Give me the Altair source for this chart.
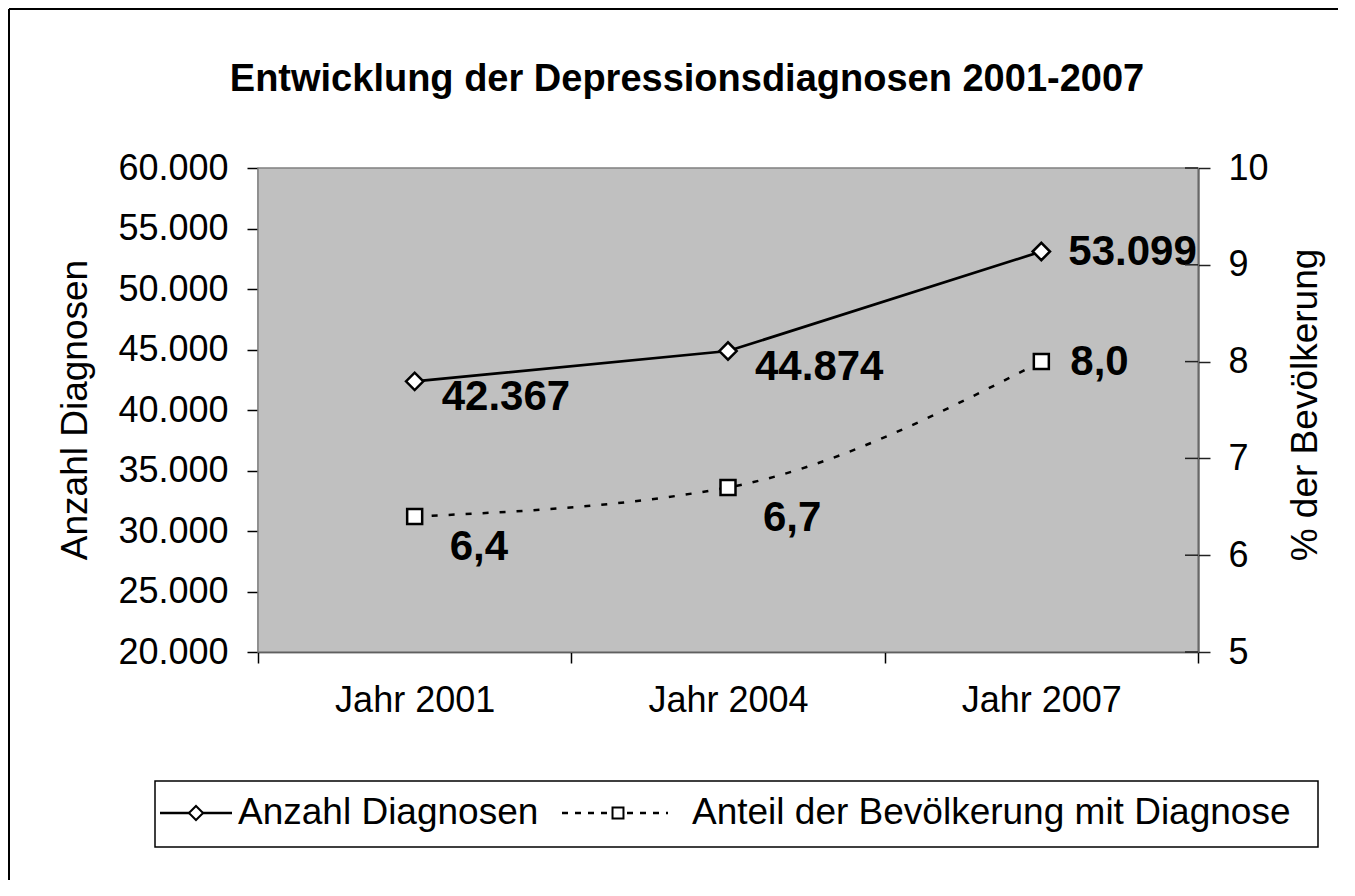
import altair as alt
import pandas as pd

# ---- data ----
categories = ["Jahr 2001", "Jahr 2004", "Jahr 2007"]
anzahl = [42367, 44874, 53099]
anteil = [6.4, 6.7, 8.0]
left_ticks = [20000, 25000, 30000, 35000, 40000, 45000, 50000, 55000, 60000]
right_ticks = [5, 6, 7, 8, 9, 10]
title_text = "Entwicklung der Depressionsdiagnosen 2001-2007"
left_title = "Anzahl Diagnosen"
right_title = "% der Bevölkerung"
legend_labels = ["Anzahl Diagnosen", "Anteil der Bevölkerung mit Diagnose"]

FONT = "Liberation Sans"
W, H = 940, 484

df = pd.DataFrame({"Jahr": categories, "Anzahl": anzahl, "Anteil": anteil})
df["idx"] = list(range(len(df)))
df["lab1"] = [f"{v:,}".replace(",", ".") for v in anzahl]
df["lab2"] = [f"{v:.1f}".replace(".", ",") for v in anteil]
ticks_df = pd.DataFrame({"t": right_ticks})
one = pd.DataFrame({"k": [0]})

x_enc = alt.X(
    "Jahr:N", sort=categories,
    scale=alt.Scale(paddingInner=0, paddingOuter=0),
    axis=alt.Axis(title=None, tickBand="extent", labelAngle=0, labelFontSize=36,
                  labelPadding=20, tickSize=11, domainColor="black", tickColor="black",
                  labelColor="black", domainWidth=1.5, tickWidth=1.5, labelFont=FONT),
)

left_scale = alt.Scale(domain=[20000, 60000], zero=False, nice=False)
left_axis = alt.Axis(orient="left", title=None, values=left_ticks,
                     labelExpr="replace(format(datum.value, ',.0f'), ',', '.')",
                     labelFontSize=36, labelPadding=19, tickSize=11, grid=False,
                     domainColor="black", tickColor="black", labelColor="black",
                     domainWidth=1.5, tickWidth=1.5, labelFont=FONT)
right_scale = alt.Scale(domain=[5, 10], zero=False, nice=False)
right_axis = alt.Axis(orient="right", title=None, values=right_ticks, format="d",
                      labelFontSize=36, labelPadding=18, tickSize=12, grid=False,
                      domainColor="#222222", tickColor="#222222", labelColor="black",
                      domainWidth=2, tickWidth=1.5, labelFont=FONT)

# plot-area background
plot_bg = alt.Chart(one).mark_rect(fill="#C0C0C0", stroke="#808080", strokeWidth=1.5).encode(
    x=alt.value(0), x2=alt.value(W), y=alt.value(0), y2=alt.value(H))

left_base = alt.Chart(df).encode(x=x_enc, y=alt.Y("Anzahl:Q", scale=left_scale, axis=left_axis))
line1 = left_base.mark_line(color="black", strokeWidth=2.7)
pts1 = left_base.mark_point(shape="diamond", size=300, filled=True, fill="white",
                            stroke="black", strokeWidth=2.5, opacity=1)
lab_style = dict(font=FONT, fontSize=42, fontWeight="bold", color="black",
                 align="left", baseline="middle")
t1a = left_base.mark_text(dx=27, dy=16, **lab_style).encode(text="lab1:N").transform_filter("datum.idx < 2")
t1b = left_base.mark_text(dx=27, dy=0, **lab_style).encode(text="lab1:N").transform_filter("datum.idx == 2")
left_layer = alt.layer(line1, pts1, t1a, t1b)

right_base = alt.Chart(df).encode(x=x_enc, y=alt.Y("Anteil:Q", scale=right_scale, axis=right_axis))
line2 = right_base.mark_line(color="black", strokeWidth=2.5, strokeDash=[6, 11], interpolate="monotone")
pts2 = right_base.mark_point(shape="square", size=225, filled=True, fill="white",
                             stroke="black", strokeWidth=2.5, opacity=1)
t2a = right_base.mark_text(dx=35, dy=31, **lab_style).encode(text="lab2:N").transform_filter("datum.idx < 2")
t2b = right_base.mark_text(dx=29, dy=0, **lab_style).encode(text="lab2:N").transform_filter("datum.idx == 2")
inner_ticks = alt.Chart(ticks_df).mark_rule(color="#222222", strokeWidth=1.5).encode(
    y=alt.Y("t:Q", scale=right_scale, axis=right_axis),
    x=alt.value(W - 13), x2=alt.value(W))
right_layer = alt.layer(line2, inner_ticks, pts2, t2a, t2b)

# ---- decorations ----
frame_left = alt.Chart(one).mark_rule(color="black", strokeWidth=2).encode(
    x=alt.value(-249), y=alt.value(-159), y2=alt.value(712))
frame_top = alt.Chart(one).mark_rule(color="black", strokeWidth=2).encode(
    x=alt.value(-249), x2=alt.value(1080), y=alt.value(-159))
title = alt.Chart(one).mark_text(font=FONT, fontSize=38, fontWeight="bold", color="black",
                                 align="center", baseline="middle").encode(
    x=alt.value(429), y=alt.value(-88), text=alt.value(title_text))
ltitle = alt.Chart(one).mark_text(font=FONT, fontSize=37, color="black", angle=270,
                                  align="center", baseline="middle").encode(
    x=alt.value(-182), y=alt.value(242), text=alt.value(left_title))
rtitle = alt.Chart(one).mark_text(font=FONT, fontSize=37, color="black", angle=270,
                                  align="center", baseline="middle").encode(
    x=alt.value(1048), y=alt.value(237), text=alt.value(right_title))

LY = 645
leg_box = alt.Chart(one).mark_rect(fill="white", stroke="black", strokeWidth=1.5).encode(
    x=alt.value(-103), x2=alt.value(1060), y=alt.value(613), y2=alt.value(679))
leg_l1 = alt.Chart(one).mark_rule(color="black", strokeWidth=2.5).encode(
    x=alt.value(-98), x2=alt.value(-26), y=alt.value(LY))
leg_p1 = alt.Chart(one).mark_point(shape="diamond", size=200, filled=True, fill="white",
                                   stroke="black", strokeWidth=2, opacity=1).encode(
    x=alt.value(-62), y=alt.value(LY))
leg_t1 = alt.Chart(one).mark_text(font=FONT, fontSize=37, color="black", align="left",
                                  baseline="middle").encode(
    x=alt.value(-20), y=alt.value(LY), text=alt.value(legend_labels[0]))
leg_l2 = alt.Chart(one).mark_rule(color="black", strokeWidth=2.3, strokeDash=[6, 7]).encode(
    x=alt.value(304), x2=alt.value(410), y=alt.value(LY))
leg_p2 = alt.Chart(one).mark_point(shape="square", size=120, filled=True, fill="white",
                                   stroke="black", strokeWidth=2, opacity=1).encode(
    x=alt.value(360), y=alt.value(LY))
leg_t2 = alt.Chart(one).mark_text(font=FONT, fontSize=37, color="black", align="left",
                                  baseline="middle").encode(
    x=alt.value(434), y=alt.value(LY), text=alt.value(legend_labels[1]))

chart = alt.layer(
    frame_left, frame_top, plot_bg, left_layer, right_layer, title, ltitle, rtitle,
    leg_box, leg_l1, leg_p1, leg_t1, leg_l2, leg_p2, leg_t2,
).resolve_scale(y="independent").properties(
    width=W, height=H,
    autosize=alt.AutoSizeParams(type="none"),
    padding={"left": 250, "top": 160, "right": 145, "bottom": 228},
    background="white",
).configure_view(
    stroke="#808080", strokeWidth=1.5
).configure(font=FONT)

chart.save("out.html", embed_options={"renderer": "svg", "actions": False})
